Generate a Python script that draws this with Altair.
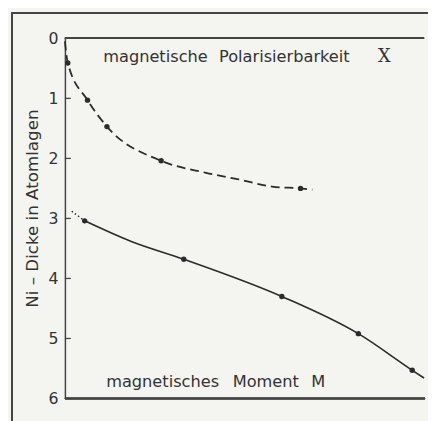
import altair as alt
import pandas as pd

# dashed curve: magnetische Polarisierbarkeit (x arbitrary units 0..100, y = Ni-Dicke)
pol_curve_x = [0, 0.8, 6.3, 11.7, 26.8, 39.3, 48.4, 57.7, 65.6, 68.9]
pol_curve_y = [0.05, 0.41, 1.03, 1.47, 2.04, 2.24, 2.35, 2.47, 2.50, 2.52]
pol_dot_x = [0.8, 6.3, 11.7, 26.8, 65.6]
pol_dot_y = [0.41, 1.03, 1.47, 2.04, 2.50]

# solid curve: magnetisches Moment
mom_curve_x = [5.5, 18.3, 33.1, 60.4, 81.7, 96.7, 100]
mom_curve_y = [3.04, 3.38, 3.68, 4.30, 4.92, 5.53, 5.66]
mom_dotted_x = [1.9, 5.5]
mom_dotted_y = [2.88, 3.04]
mom_dot_x = [5.5, 33.1, 60.4, 81.7, 96.7]
mom_dot_y = [3.04, 3.68, 4.30, 4.92, 5.53]

tick_values = [0, 1, 2, 3, 4, 5, 6]

INK = "#2b2b2b"
FONT = "DejaVu Sans"

xs = alt.Scale(domain=[0, 100])
ys = alt.Scale(domain=[0, 6], reverse=True)

pol_df = pd.DataFrame({"x": pol_curve_x, "y": pol_curve_y})
pol_dots = pd.DataFrame({"x": pol_dot_x, "y": pol_dot_y})
mom_df = pd.DataFrame({"x": mom_curve_x, "y": mom_curve_y})
mom_dotted = pd.DataFrame({"x": mom_dotted_x, "y": mom_dotted_y})
mom_dots = pd.DataFrame({"x": mom_dot_x, "y": mom_dot_y})
ticks_df = pd.DataFrame({"t": tick_values})
one = ticks_df.head(1)

yaxis = alt.Axis(
    values=tick_values, format="d", tickSize=0, labelPadding=7, labelFontSize=16,
    labelColor="#333", labelFont=FONT, grid=False,
    domainColor="#444", domainWidth=1.5,
    title="Ni – Dicke in Atomlagen", titleFont=FONT, titleFontSize=17,
    titleFontWeight="normal", titleColor="#333",
    titleX=-33, titleY=173, titleBaseline="middle",
)

pol_line = alt.Chart(pol_df).mark_line(
    color=INK, strokeWidth=1.8, strokeDash=[9, 5], interpolate="monotone"
).encode(
    x=alt.X("x:Q", scale=xs, axis=None),
    y=alt.Y("y:Q", scale=ys, axis=yaxis),
)
mom_line = alt.Chart(mom_df).mark_line(
    color=INK, strokeWidth=1.6, interpolate="monotone"
).encode(x=alt.X("x:Q", scale=xs), y=alt.Y("y:Q", scale=ys))
mom_dot_line = alt.Chart(mom_dotted).mark_line(
    color=INK, strokeWidth=1.5, strokeDash=[1.5, 2.5]
).encode(x=alt.X("x:Q", scale=xs), y=alt.Y("y:Q", scale=ys))

pol_pts = alt.Chart(pol_dots).mark_circle(color=INK, opacity=1, size=30).encode(
    x=alt.X("x:Q", scale=xs), y=alt.Y("y:Q", scale=ys))
mom_pts = alt.Chart(mom_dots).mark_circle(color=INK, opacity=1, size=30).encode(
    x=alt.X("x:Q", scale=xs), y=alt.Y("y:Q", scale=ys))

inner_ticks = alt.Chart(ticks_df).mark_rule(color="#444", strokeWidth=1.3).encode(
    y=alt.Y("t:Q", scale=ys), x=alt.value(0), x2=alt.value(6))

top_line = alt.Chart(ticks_df).mark_rule(color="#444", strokeWidth=1.5).encode(
    x=alt.value(0), x2=alt.value(366), y=alt.value(0))
bottom_line = alt.Chart(ticks_df).mark_rule(color="#444", strokeWidth=1.5).encode(
    x=alt.value(0), x2=alt.value(367), y=alt.value(367))

outer_top = alt.Chart(ticks_df).mark_rule(color="#444", strokeWidth=1.5).encode(
    x=alt.value(-54), x2=alt.value(380), y=alt.value(-26))
outer_left = alt.Chart(ticks_df).mark_rule(color="#444", strokeWidth=1.5).encode(
    x=alt.value(-54), y=alt.value(-26), y2=alt.value(400))


def word(txt, x, y, size=16.5, font=FONT):
    return alt.Chart(one).mark_text(
        text=txt, font=font, fontSize=size, color="#333",
        align="left", baseline="alphabetic"
    ).encode(x=alt.value(x), y=alt.value(y))


labels = [
    word("magnetische", 39, 24),
    word("Polarisierbarkeit", 157, 24),
    word("Χ", 319, 24, 18, "DejaVu Serif"),
    word("magnetisches", 42, 355),
    word("Moment", 171, 355),
    word("M", 251, 355),
]

chart = alt.layer(
    outer_top, outer_left, top_line, bottom_line, inner_ticks,
    pol_line, mom_line, mom_dot_line, pol_pts, mom_pts, *labels
).properties(
    width=366, height=367,
    autosize=alt.AutoSizeParams(type="none"),
    padding={"left": 58, "top": 27, "right": 4, "bottom": 19},
    background="#f4f4f1",
).configure_view(stroke=None)

chart.save("out.html", embed_options={"renderer": "svg", "actions": False})
